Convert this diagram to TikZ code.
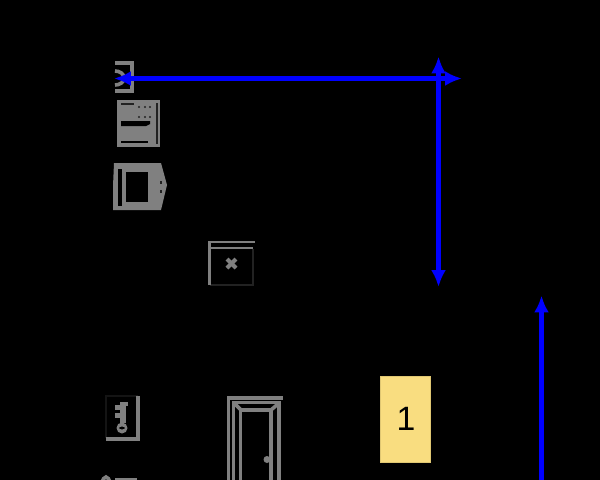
\documentclass[tikz,border=0pt]{standalone}
\usepackage{fontspec}
\setmainfont{Liberation Sans}
\usetikzlibrary{arrows.meta}
\definecolor{iconGray}{HTML}{808080}
\definecolor{iconDark}{HTML}{222222}
\definecolor{iconFaint}{HTML}{141414}
\definecolor{boxYellow}{HTML}{F9DD80}
\definecolor{routeBlue}{HTML}{0000FF}
\tikzset{
  route/.style={draw=routeBlue, line width=0.125cm},
  routetip/.style={{Latex[length=0.42cm,width=0.37cm]}-{Latex[length=0.42cm,width=0.37cm]}},
  icon/.style={draw=iconGray, line width=0.09cm},
  thinicon/.style={draw=iconGray, line width=0.06cm},
  darkicon/.style={draw=iconDark, line width=0.04cm}
}
\begin{document}
\begin{tikzpicture}[x=0.025cm, y=-0.025cm]
    % Background
    \fill[black] (0,0) rectangle (600,480);
    \useasboundingbox (0,0) rectangle (600,480);

    % Top icon
    \draw[icon] (115,63) -- (132,63) -- (132,91) -- (115,91);
    \draw[icon] (115,71) to[out=0, in=90] (124,78) to[out=-90, in=0] (115,85);

    % Panel icon
    \fill[iconGray] (117,100) rectangle (160,147);
    \fill[black] (121,121) -- (150,121) -- (150,124) -- (146,126) -- (121,126) -- cycle;
    \draw[iconDark, line width=0.04cm] (121,104) -- (134,104);
    \draw[iconDark, line width=0.05cm] (157,103) -- (157,144);
    \draw[black, line width=0.05cm] (121,142) -- (148,142);
    \foreach \y in {107,117}
        \foreach \x in {139,145,150}
            \fill[iconDark] (\x,\y) circle (1.2);

    % Screen icon
    \fill[iconGray] (114,163) -- (161,163) -- (167,185) -- (161,210) -- (113,210) -- (113,186) -- cycle;
    \fill[black] (126,172) rectangle (148,202);
    \fill[black] (118,169) rectangle (122,206);
    \fill[iconDark] (160,181) rectangle (162,184);
    \fill[iconDark] (160,190) rectangle (162,193);

    % Box with cross
    \draw[darkicon] (253,249) -- (253,285) -- (209.5,285);
    \draw[thinicon] (209.5,285) -- (209.5,242) -- (255,242);
    \draw[thinicon] (209.5,248) -- (253,248);
    \draw[iconGray, line width=0.1cm] (227,259) -- (236,268);
    \draw[iconGray, line width=0.1cm] (236,259) -- (227,268);

    % Key icon
    \draw[iconFaint, line width=0.04cm] (106,438) -- (106,396) -- (138,396);
    \draw[icon] (138,396) -- (138,439) -- (106,439);
    \fill[iconGray, even odd rule] (122,428) circle (5.5) (122,428) ellipse (3 and 1.5);
    \fill[iconGray] (120,402) rectangle (126,423);
    \fill[iconGray] (115,405) rectangle (120,410);
    \fill[iconGray] (115,413) rectangle (120,418);
    \fill[iconGray] (120,402) rectangle (128,406);

    % Door
    \draw[icon] (228.5,480) -- (228.5,398) -- (283,398);
    \draw[icon] (233.5,480) -- (233.5,402.5) -- (279,402.5) -- (279,480);
    \draw[icon] (240.5,480) -- (240.5,410) -- (271,410) -- (271,480);
    \draw[icon] (235,404) -- (241,410);
    \draw[icon] (278,404) -- (271,410);
    \fill[iconGray] (267,459.5) circle (3.5);

    % Cut off icon at the bottom edge
    \begin{scope}
        \clip (0,0) rectangle (600,480);
        \draw[icon] (100,484) to[out=-70, in=180] (106,477) to[out=0, in=-110] (112,484);
        \draw[icon] (115,480) -- (137,480);
    \end{scope}

    % Yellow box
    \node[draw=boxYellow!90!black, fill=boxYellow, line width=0.025cm, inner sep=0pt,
          minimum width=1.25cm, minimum height=2.15cm] (box1) at (405.8,419.5) {};
    \node[font=\fontsize{24}{24}\selectfont, text=black] (label1) at (406,419) {1};

    % Blue routes
    \coordinate (hstart) at (114,78.5);
    \coordinate (hend) at (462,78.5);
    \coordinate (vtop) at (438.5,56.5);
    \coordinate (vbottom) at (438.5,287);
    \coordinate (rbottom) at (541.5,482);
    \coordinate (rtop) at (541.5,295.5);
    \draw[route, routetip] (hstart) -- (hend);
    \draw[route, routetip] (vtop) -- (vbottom);
    \draw[route, -{Latex[length=0.42cm,width=0.37cm]}] (rbottom) -- (rtop);
\end{tikzpicture}
\end{document}
